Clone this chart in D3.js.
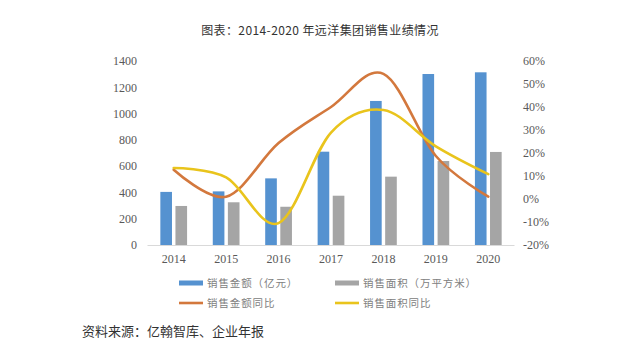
<!DOCTYPE html>
<html><head><meta charset="utf-8">
<script src="https://cdn.jsdelivr.net/npm/d3@7"></script>
<style>body{margin:0;background:#fff}svg{display:block}</style>
</head><body>
<svg id="c" width="640" height="355"></svg>
<script>
const years = ["2014","2015","2016","2017","2018","2019","2020"];
const salesAmount = [404, 408, 507, 710, 1096, 1301, 1314];
const salesArea = [297, 325, 291, 375, 520, 639, 708];
const amountYoY = [12.7, 1.0, 24.3, 40.0, 54.4, 18.7, 1.0];
const areaYoY = [13.5, 9.4, -10.5, 28.9, 38.7, 22.9, 10.8];
const leftTicks = [0,200,400,600,800,1000,1200,1400];
const rightTicks = [-20,-10,0,10,20,30,40,50,60];
const seriesNames = ["销售金额（亿元）","销售面积（万平方米）","销售金额同比","销售面积同比"];
const colors = ["#5592d0","#a5a5a5","#d3783d","#e9c41c"];

const svg = d3.select("#c");
const serif = "'Liberation Serif','DejaVu Serif',serif";
const cjk = "'Noto Sans CJK SC','Noto Sans',sans-serif";

const x0 = d3.scaleBand().domain(years).range([147.5, 514.5]).paddingInner(0.49).paddingOuter(0.245);
const x1 = d3.scaleBand().domain([0,1]).range([0, x0.bandwidth()]).paddingInner(0.23);
const yL = d3.scaleLinear().domain([0,1400]).range([245, 61]);
const yR = d3.scaleLinear().domain([-20,60]).range([245, 61]);
const cx = y => x0(y) + x0.bandwidth()/2;

// title
svg.append("text").attr("x",320).attr("y",35).attr("text-anchor","middle")
  .attr("font-family",cjk).attr("font-size",12).attr("fill","#333").attr("letter-spacing",0.4)
  .text("图表：2014-2020 年远洋集团销售业绩情况");

// axis baseline
svg.append("line").attr("x1",147.5).attr("x2",514.5).attr("y1",245.5).attr("y2",245.5)
  .attr("stroke","#d9d9d9").attr("stroke-width",1);

// left ticks
const lAxis = d3.axisLeft(yL).tickValues(leftTicks).tickSize(0).tickPadding(0).tickFormat(d3.format("d"));
const gL = svg.append("g").attr("transform","translate(137,0)").call(lAxis);
gL.select(".domain").remove();
gL.selectAll("text").attr("font-family",serif).attr("font-size",12).attr("fill","#595959");

const rAxis = d3.axisRight(yR).tickValues(rightTicks).tickSize(0).tickPadding(0).tickFormat(d=>d+"%");
const gR = svg.append("g").attr("transform","translate(523,0)").call(rAxis);
gR.select(".domain").remove();
gR.selectAll("text").attr("font-family",serif).attr("font-size",12).attr("fill","#595959");

// x labels
const xAxis = d3.axisBottom(x0).tickSize(0).tickPadding(0);
const gX = svg.append("g").attr("transform","translate(0,254)").call(xAxis);
gX.select(".domain").remove();
gX.selectAll("text").attr("font-family",serif).attr("font-size",12).attr("fill","#595959");

// bars
[salesAmount, salesArea].forEach((arr,i)=>{
  svg.append("g").selectAll("rect").data(years).join("rect")
    .attr("x",(d)=>x0(d)+x1(i)).attr("width",x1.bandwidth())
    .attr("y",(d,j)=>yL(arr[j])).attr("height",(d,j)=>yL(0)-yL(arr[j]))
    .attr("fill",colors[i]);
});

// lines
const line = d3.line().x((d,i)=>cx(years[i])).y(d=>yR(d)).curve(d3.curveCatmullRom.alpha(0));
[amountYoY, areaYoY].forEach((arr,i)=>{
  svg.append("path").attr("d",line(arr)).attr("fill","none")
    .attr("stroke",colors[i+2]).attr("stroke-width",2.6).attr("stroke-linecap","round");
});

// legend
const legPos = [[179,283],[335,283],[179,303],[335,303]];
seriesNames.forEach((n,i)=>{
  const [lx,ly] = legPos[i];
  if(i<2){
    svg.append("rect").attr("x",lx).attr("y",ly-2.5).attr("width",24).attr("height",5).attr("fill",colors[i]);
  } else {
    svg.append("line").attr("x1",lx).attr("x2",lx+24).attr("y1",ly).attr("y2",ly)
      .attr("stroke",colors[i]).attr("stroke-width",2.6);
  }
  svg.append("text").attr("x",lx+28).attr("y",ly+4).attr("font-family",cjk).attr("font-size",10.5)
    .attr("letter-spacing",0.9).attr("fill","#808080").text(n);
});

// source
svg.append("text").attr("x",82).attr("y",336).attr("font-family",cjk).attr("font-size",13)
  .attr("fill","#333").text("资料来源：亿翰智库、企业年报");
</script>
</body></html>
